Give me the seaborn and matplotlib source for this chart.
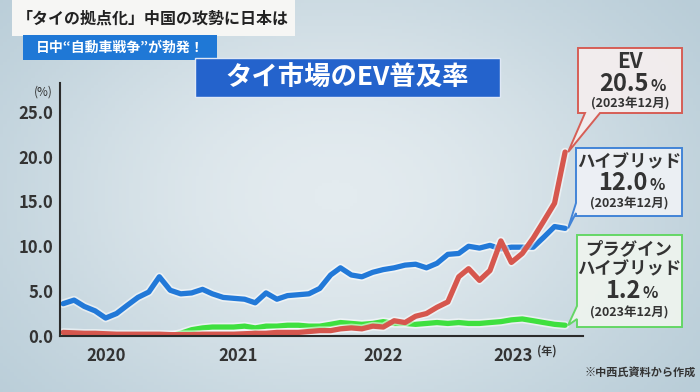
import matplotlib
matplotlib.use('Agg')
import matplotlib.pyplot as plt
import matplotlib.dates as mdates
import matplotlib.patheffects as pe
from matplotlib.colors import LinearSegmentedColormap
from matplotlib.patches import Polygon, Rectangle
import numpy as np
import pandas as pd
import seaborn as sns


# ==============================
# DATA (monthly share, %)
# ==============================
MONTHS = pd.date_range('2020-01-01', '2023-12-01', freq='MS')

HEV = [3.6, 4.0, 3.3, 2.8, 2.0, 2.5, 3.4, 4.3, 4.9, 6.6, 5.1, 4.7,
       4.8, 5.2, 4.7, 4.3, 4.2, 4.1, 3.7, 4.8, 4.1, 4.5, 4.6, 4.7,
       5.3, 6.8, 7.6, 6.8, 6.6, 7.1, 7.4, 7.6, 7.9, 8.0, 7.6, 8.1,
       9.1, 9.2, 10.0, 9.8, 10.1, 9.7, 9.9, 9.9, 9.9, 11.0, 12.2, 12.0]

EV = [0.4, 0.35, 0.3, 0.3, 0.25, 0.2, 0.2, 0.2, 0.2, 0.2, 0.15, 0.15,
      0.15, 0.2, 0.2, 0.2, 0.2, 0.25, 0.3, 0.3, 0.4, 0.4, 0.4, 0.5,
      0.6, 0.6, 0.8, 0.9, 0.8, 1.1, 1.0, 1.7, 1.5, 2.2, 2.5, 3.2,
      3.8, 6.6, 7.5, 6.2, 7.3, 10.6, 8.2, 9.2, 10.9, 12.8, 14.8, 20.5]

PHEV = [0.0, 0.0, 0.0, 0.0, 0.0, 0.0, 0.0, 0.0, 0.0, 0.0, 0.0, 0.3,
        0.7, 0.9, 1.0, 1.0, 1.0, 1.1, 0.9, 1.1, 1.1, 1.2, 1.2, 1.1,
        1.1, 1.3, 1.5, 1.4, 1.3, 1.4, 1.6, 1.4, 1.4, 1.3, 1.4, 1.5,
        1.4, 1.5, 1.4, 1.4, 1.5, 1.6, 1.8, 1.9, 1.7, 1.5, 1.3, 1.2]

YEAR_LABELS = ['2020', '2021', '2022', '2023']
Y_TICKS = [0, 5, 10, 15, 20, 25]

SERIES = ['PHEV', 'HEV', 'EV']
COLORS = {'PHEV': '#3fe03f', 'HEV': '#2279d8', 'EV': '#d6574e'}

W, H = 700, 392


def fx(px):
    return px / W


def fy(py):
    return 1 - py / H


# ==============================
# SETUP
# ==============================
sns.set_theme(style='white')
plt.rcParams['font.family'] = ['Noto Sans CJK JP', 'DejaVu Sans']
TXT = '#333333'

fig = plt.figure(figsize=(7, 3.92), dpi=100)

# background gradient
bg = fig.add_axes([0, 0, 1, 1], zorder=-10)
xx, yy = np.meshgrid(np.linspace(0, 1, 200), np.linspace(0, 1, 120))
glow = np.exp(-((xx - 0.48) / 0.55) ** 2 - ((yy - 0.5) / 0.7) ** 2)
cmap = LinearSegmentedColormap.from_list('bg', ['#b9cdd8', '#e3ebef'])
bg.imshow(glow, aspect='auto', cmap=cmap, extent=[0, 1, 0, 1])
bg.axis('off')

# ==============================
# MAIN CHART
# ==============================
ax = fig.add_axes([fx(60), fy(336), fx(583) - fx(60), fy(83) - fy(336)])
ax.patch.set_alpha(0)

df = pd.DataFrame({'month': MONTHS, 'HEV': HEV, 'EV': EV, 'PHEV': PHEV})
long_df = df.melt(id_vars='month', var_name='series', value_name='share')

sns.lineplot(data=long_df, x='month', y='share', hue='series',
             hue_order=SERIES, palette=COLORS, linewidth=3.8,
             legend=False, ax=ax)

for line in ax.lines:
    line.set_solid_joinstyle('round')
    line.set_solid_capstyle('round')
    line.set_path_effects([pe.Stroke(linewidth=6.2, foreground='white', alpha=0.55),
                           pe.Normal()])

ax.set_xlim(pd.Timestamp('2019-12-23'), pd.Timestamp('2024-01-21'))
ax.set_ylim(0, 28.2)

ax.set_xticks([pd.Timestamp('2020-05-01'), pd.Timestamp('2021-05-12'),
               pd.Timestamp('2022-07-01'), pd.Timestamp('2023-07-05')])
ax.set_xticklabels(YEAR_LABELS)
ax.tick_params(axis='x', length=0, pad=8, labelsize=12, labelcolor=TXT)
ax.set_yticks(Y_TICKS)
ax.set_yticklabels([f'{v:.1f}' for v in Y_TICKS])
ax.tick_params(axis='y', direction='out', length=4, width=1.2, color=TXT,
               pad=1, labelsize=12, labelcolor=TXT)
for lbl in ax.get_xticklabels() + ax.get_yticklabels():
    lbl.set_fontweight('bold')

ax.set_xlabel('')
ax.set_ylabel('')
sns.despine(ax=ax)
for side in ['left', 'bottom']:
    ax.spines[side].set_color('#2b2b2b')
    ax.spines[side].set_linewidth(1.5)
ax.grid(False)

fig.text(fx(43), fy(92), '(%)', ha='center', va='center', fontsize=8.5, color=TXT)
fig.text(fx(547), fy(351), '(年)', ha='center', va='center', fontsize=8, color=TXT,
         fontweight='bold')

# ==============================
# HEADERS
# ==============================
fig.patches.append(Rectangle((fx(12), fy(36)), fx(295) - fx(12), fy(0) - fy(36),
                             transform=fig.transFigure, facecolor='#f6f6f4',
                             edgecolor='none', zorder=1))
fig.text(fx(153), fy(19), '「タイの拠点化」中国の攻勢に日本は', ha='center', va='center',
         fontsize=11.5, color='#222222', fontweight='bold')

fig.patches.append(Rectangle((fx(23), fy(60)), fx(217) - fx(23), fy(35) - fy(60),
                             transform=fig.transFigure, facecolor='#1f78d6',
                             edgecolor='none', zorder=1))
fig.text(fx(120), fy(48), '日中“自動車戦争”が勃発！', ha='center', va='center',
         fontsize=10, color='white', fontweight='bold')

fig.patches.append(Rectangle((fx(195), fy(97)), fx(500) - fx(195), fy(58) - fy(97),
                             transform=fig.transFigure, facecolor='#2463cc',
                             edgecolor='#dfe8f5', linewidth=1, zorder=1))
fig.text(fx(347), fy(78), 'タイ市場のEV普及率', ha='center', va='center',
         fontsize=19, color='white', fontweight='bold')

fig.text(fx(640), fy(372), '※中西氏資料から作成', ha='center', va='center',
         fontsize=8, color=TXT, fontweight='bold')

# ==============================
# CALLOUT BOXES
# ==============================
renderer = fig.canvas.get_renderer()


def line_end(values):
    px, py = ax.transData.transform((mdates.date2num(MONTHS[-1]), values[-1]))
    return px + 3, H - py


def callout(verts, face, edge):
    pts = [(fx(x), fy(y)) for x, y in verts]
    fig.patches.append(Polygon(pts, closed=True, transform=fig.transFigure,
                               facecolor=face, edgecolor=edge, linewidth=1.4,
                               alpha=0.95, zorder=2))


def value_text(cx, cy, number):
    t = fig.text(fx(cx - 6), fy(cy), number, ha='center', va='center',
                 fontsize=17, color=TXT, fontweight='bold', zorder=3)
    bb = t.get_window_extent(renderer)
    fig.text(bb.x1 / W + 0.002, fy(cy + 2), '%', ha='left', va='center',
             fontsize=11.5, color=TXT, fontweight='bold', zorder=3)


# EV
tip = line_end(EV)
callout([(578, 48), (682, 48), (682, 113), (600, 113), tip, (585, 113), (578, 113)],
        '#f4eeee', '#d6574e')
fig.text(fx(630), fy(62), 'EV', ha='center', va='center', fontsize=15,
         color=TXT, fontweight='bold', zorder=3)
value_text(630, 84, f'{EV[-1]:.1f}')
fig.text(fx(630), fy(104), '(2023年12月)', ha='center', va='center', fontsize=9,
         color=TXT, fontweight='bold', zorder=3)

# HEV
tip = line_end(HEV)
callout([(576, 148), (682, 148), (682, 216), (576, 216), (576, 213), tip, (576, 203)],
        '#eef1f5', '#3a7fd6')
fig.text(fx(629), fy(162), 'ハイブリッド', ha='center', va='center', fontsize=12.5,
         color=TXT, fontweight='bold', zorder=3)
value_text(629, 183, f'{HEV[-1]:.1f}')
fig.text(fx(629), fy(204), '(2023年12月)', ha='center', va='center', fontsize=9,
         color=TXT, fontweight='bold', zorder=3)

# PHEV
tip = line_end(PHEV)
callout([(577, 235), (682, 235), (682, 327), (577, 327), (577, 319), tip, (577, 306)],
        '#eef4ee', '#5fd65f')
fig.text(fx(629), fy(249), 'プラグイン', ha='center', va='center', fontsize=12.5,
         color=TXT, fontweight='bold', zorder=3)
fig.text(fx(629), fy(269), 'ハイブリッド', ha='center', va='center', fontsize=12.5,
         color=TXT, fontweight='bold', zorder=3)
value_text(629, 291, f'{PHEV[-1]:.1f}')
fig.text(fx(629), fy(313), '(2023年12月)', ha='center', va='center', fontsize=9,
         color=TXT, fontweight='bold', zorder=3)

fig.savefig('out.png', dpi=100)
